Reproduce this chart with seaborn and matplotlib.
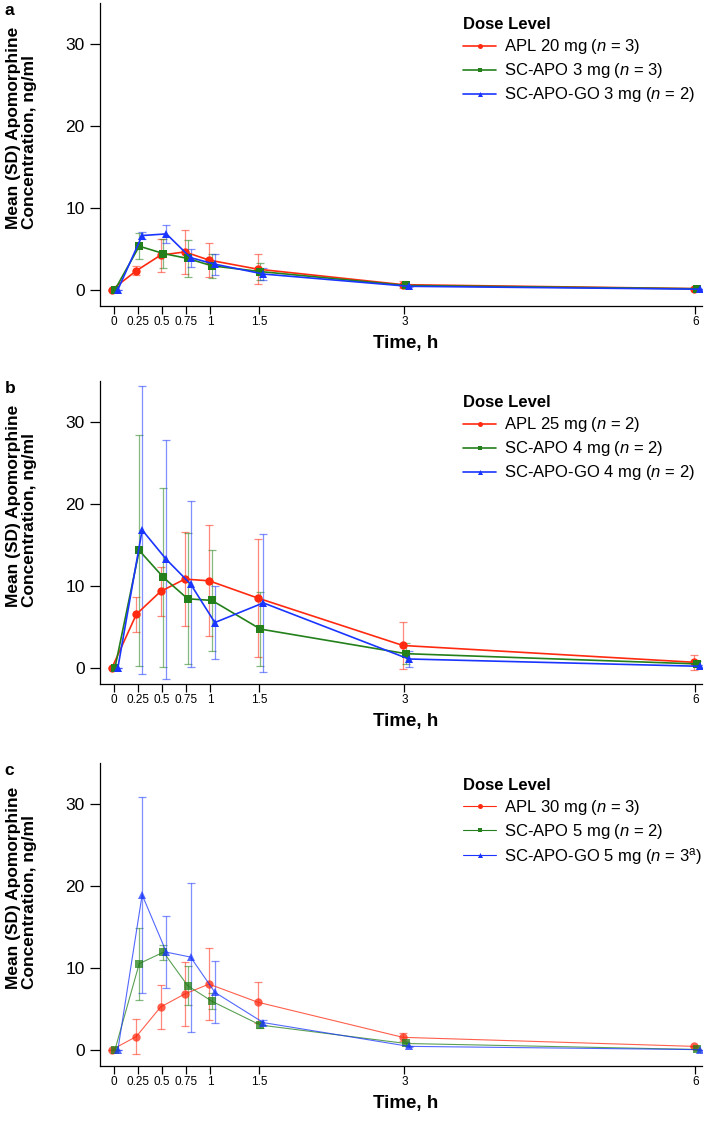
import numpy as np
import pandas as pd
import matplotlib
matplotlib.use("Agg")
import matplotlib.pyplot as plt
import seaborn as sns

# sampling times (h)
times = [0, 0.25, 0.5, 0.75, 1, 1.5, 3, 6]
tick_labels = ["0", "0.25", "0.5", "0.75", "1", "1.5", "3", "6"]

# panel a
a_labels = ["APL 20 mg ($n$ = 3)", "SC-APO 3 mg ($n$ = 3)", "SC-APO-GO 3 mg ($n$ = 2)"]
a_apl_mean = [0, 2.3, 4.2, 4.6, 3.6, 2.5, 0.6, 0.12]
a_apl_sd = [0, 0.55, 2.0, 2.7, 2.1, 1.8, 0.4, 0.05]
a_sc_mean = [0, 5.3, 4.4, 3.8, 2.9, 2.2, 0.5, 0.1]
a_sc_sd = [0, 1.6, 1.8, 2.3, 1.5, 1.0, 0.2, 0.03]
a_go_mean = [0, 6.6, 6.8, 3.9, 3.1, 1.9, 0.4, 0.05]
a_go_sd = [0, 0.4, 1.1, 1.1, 1.3, 0.7, 0.1, 0.02]

# panel b
b_labels = ["APL 25 mg ($n$ = 2)", "SC-APO 4 mg ($n$ = 2)", "SC-APO-GO 4 mg ($n$ = 2)"]
b_apl_mean = [0, 6.5, 9.3, 10.8, 10.6, 8.5, 2.7, 0.65]
b_apl_sd = [0, 2.1, 3.0, 5.7, 6.8, 7.2, 2.9, 0.9]
b_sc_mean = [0, 14.3, 11.0, 8.4, 8.2, 4.7, 1.7, 0.45]
b_sc_sd = [0, 14.1, 10.9, 8.0, 6.2, 4.5, 1.3, 0.3]
b_go_mean = [0, 16.8, 13.2, 10.2, 5.5, 7.9, 1.05, 0.16]
b_go_sd = [0, 17.6, 14.6, 10.1, 4.5, 8.4, 0.95, 0.2]

# panel c
c_labels = ["APL 30 mg ($n$ = 3)", "SC-APO 5 mg ($n$ = 2)", "SC-APO-GO 5 mg ($n$ = 3$^{\\mathrm{a}}$)"]
c_apl_mean = [0, 1.6, 5.2, 6.8, 8.0, 5.8, 1.5, 0.4]
c_apl_sd = [0, 2.1, 2.7, 3.9, 4.4, 2.5, 0.5, 0.05]
c_sc_mean = [0, 10.5, 11.9, 7.8, 5.9, 3.0, 0.75, 0.02]
c_sc_sd = [0, 4.4, 0.9, 2.4, 1.0, 0.4, 0.2, 0.02]
c_go_mean = [0, 18.9, 11.9, 11.3, 7.0, 3.3, 0.4, 0.0]
c_go_sd = [0, 12.0, 4.4, 9.1, 3.8, 0.3, 0.1, 0.0]

panels = [
    ("a", a_labels, [a_apl_mean, a_sc_mean, a_go_mean], [a_apl_sd, a_sc_sd, a_go_sd]),
    ("b", b_labels, [b_apl_mean, b_sc_mean, b_go_mean], [b_apl_sd, b_sc_sd, b_go_sd]),
    ("c", c_labels, [c_apl_mean, c_sc_mean, c_go_mean], [c_apl_sd, c_sc_sd, c_go_sd]),
]

colors = ["#ff2a10", "#23801a", "#1a35ff"]
markers = ["o", "s", "^"]
offsets = [-0.015, 0.015, 0.045]

sns.set_style("ticks")
plt.rcParams["font.family"] = ["Liberation Sans", "DejaVu Sans"]
plt.rcParams["mathtext.fontset"] = "custom"
plt.rcParams["mathtext.rm"] = "Liberation Sans"
plt.rcParams["mathtext.it"] = "Liberation Sans:italic"
plt.rcParams["axes.linewidth"] = 0.9
for key in ["text.color", "axes.labelcolor", "axes.edgecolor", "xtick.color", "ytick.color"]:
    plt.rcParams[key] = "black"

fig = plt.figure(figsize=(7.08, 11.22), dpi=100)
bottoms = [0.7273, 0.3904, 0.0499]

for (tag, labels, means, sds), bottom in zip(panels, bottoms):
    ax = fig.add_axes([0.1412, bottom, 0.8503, 0.2701])
    thin = tag == "c"
    rows = []
    for i, lab in enumerate(labels):
        for t, m in zip(times, means[i]):
            rows.append({"x": t + offsets[i], "y": m, "series": lab})
    df = pd.DataFrame(rows)

    # error bars first (under the lines)
    for i, lab in enumerate(labels):
        xs = np.array(times) + offsets[i]
        ax.errorbar(xs, means[i], yerr=sds[i], fmt="none", ecolor=colors[i],
                    alpha=0.55, elinewidth=0.9, capsize=2.6, capthick=0.9, zorder=1)

    sns.lineplot(data=df, x="x", y="y", hue="series", style="series",
                 hue_order=labels, style_order=labels,
                 palette=dict(zip(labels, colors)),
                 markers=dict(zip(labels, markers)), dashes=False,
                 markersize=6, markeredgewidth=0,
                 linewidth=0.8 if thin else 1.2,
                 alpha=0.75 if thin else 1.0,
                 ax=ax, zorder=3)

    ax.set_xlim(-0.14, 6.07)
    ax.set_ylim(-2, 35)
    ax.set_xticks(times)
    ax.set_xticklabels(tick_labels)
    ax.set_yticks([0, 10, 20, 30])
    ax.tick_params(axis="x", labelsize=8.5, length=6, width=0.9, pad=1.5)
    ax.tick_params(axis="y", labelsize=12.5, length=7, width=0.9, pad=4)
    sns.despine(ax=ax)

    ax.set_xlabel("Time, h", fontsize=13.5, fontweight="bold")
    ax.xaxis.set_label_coords(0.507, -0.095)
    ax.set_ylabel("")
    ax.text(-0.130, 0.589, "Mean (SD) Apomorphine\nConcentration, ng/ml",
            transform=ax.transAxes, rotation=90, ha="center", va="center",
            multialignment="left", linespacing=1.05,
            fontsize=12.5, fontweight="bold")
    ax.text(-0.158, 1.0, tag, transform=ax.transAxes, ha="left", va="top",
            fontsize=12.5, fontweight="bold")

    leg = ax.legend(title="Dose Level", loc="upper left",
                    bbox_to_anchor=(0.603, 0.952), frameon=False,
                    fontsize=12, title_fontproperties={"weight": "bold", "size": 12},
                    alignment="left", borderpad=0, borderaxespad=0,
                    handlelength=2.0, handletextpad=0.45, labelspacing=0.3,
                    markerscale=0.6)
    for h in leg.legend_handles:
        h.set_alpha(1.0)

fig.savefig("out.png", dpi=100)
